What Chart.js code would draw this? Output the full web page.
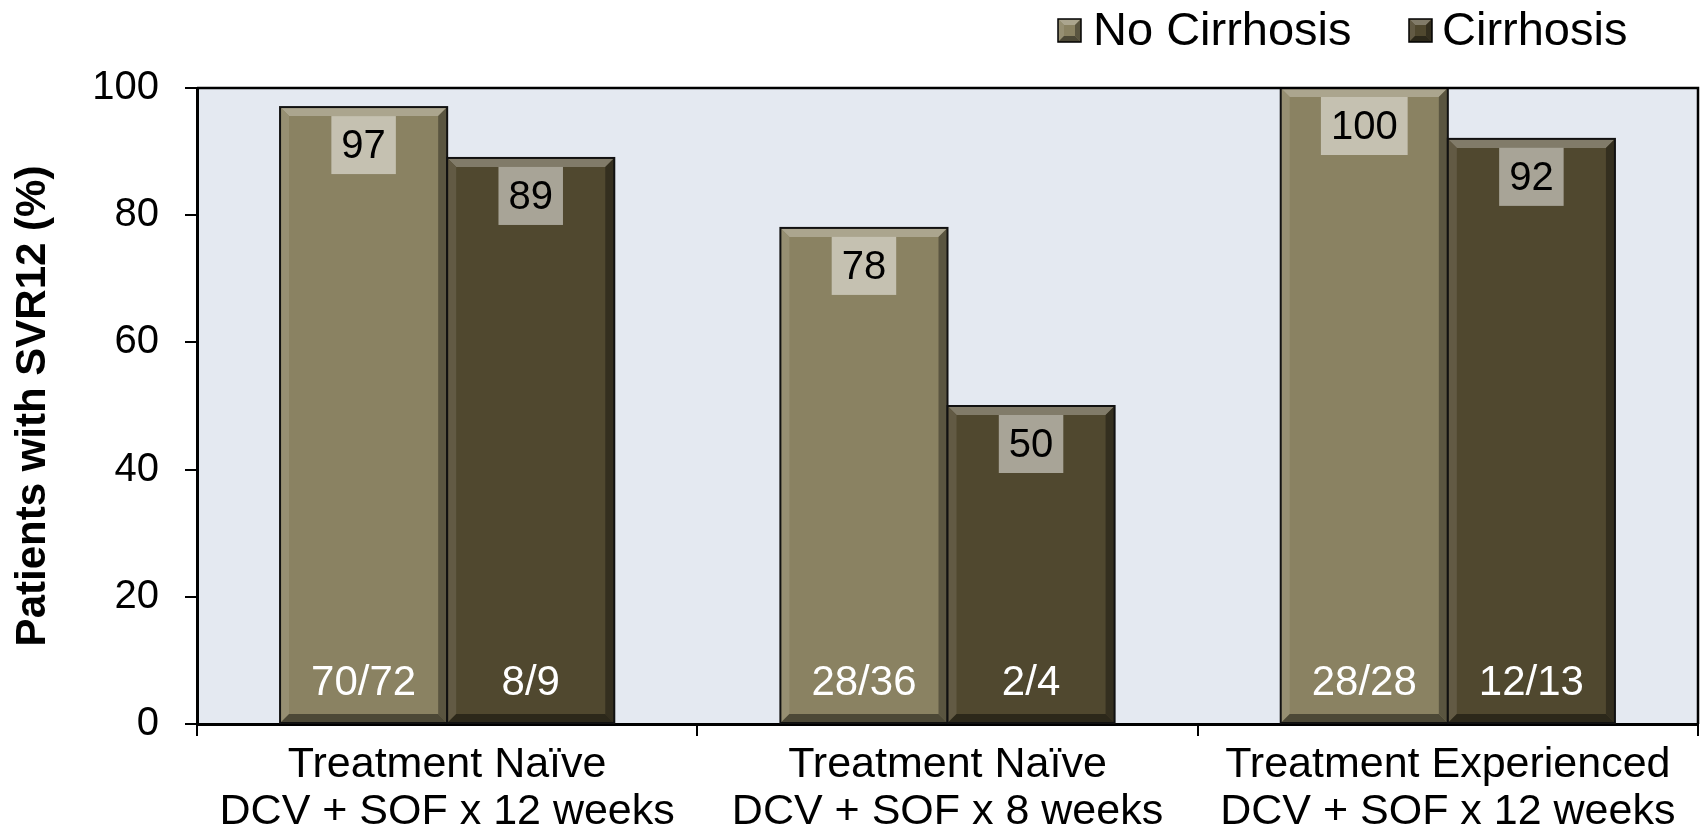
<!DOCTYPE html>
<html>
<head>
<meta charset="utf-8">
<script src="https://cdn.jsdelivr.net/npm/chart.js@4.4.1/dist/chart.umd.min.js"></script>
<style>
  html, body { margin: 0; padding: 0; background: #fff; }
  #wrap { width: 1702px; height: 833px; }
</style>
</head>
<body>
<div id="wrap"><canvas id="chart" width="1702" height="833"></canvas></div>
<script>
// Data
const categories = [
  ["Treatment Naïve", "DCV + SOF x 12 weeks"],
  ["Treatment Naïve", "DCV + SOF x 8 weeks"],
  ["Treatment Experienced", "DCV + SOF x 12 weeks"]
];
const noCirrhosis = [97, 78, 100];
const cirrhosis = [89, 50, 92];
const noCirrhosisCounts = ["70/72", "28/36", "28/28"];
const cirrhosisCounts = ["8/9", "2/4", "12/13"];
const seriesNames = ["No Cirrhosis", "Cirrhosis"];
const yTicks = [0, 20, 40, 60, 80, 100];

const FONT = "'Liberation Sans', Arial, Helvetica, sans-serif";
const barColors = ["#8a8262", "#50482f"];
const counts = [noCirrhosisCounts, cirrhosisCounts];

function shade(hex, amt) {
  const n = parseInt(hex.slice(1), 16);
  let r = (n >> 16) & 255, g = (n >> 8) & 255, b = n & 255;
  const f = c => Math.max(0, Math.min(255, Math.round(amt > 0 ? c + (255 - c) * amt : c * (1 + amt))));
  return `rgb(${f(r)},${f(g)},${f(b)})`;
}

// draws a bevelled box like the office-style bars
function bevel(ctx, x0, y0, x1, y1, color, d) {
  ctx.fillStyle = color;
  ctx.fillRect(x0, y0, x1 - x0, y1 - y0);
  // top
  ctx.fillStyle = shade(color, 0.28);
  ctx.beginPath();
  ctx.moveTo(x0, y0); ctx.lineTo(x1, y0); ctx.lineTo(x1 - d, y0 + d); ctx.lineTo(x0 + d, y0 + d);
  ctx.fill();
  // left
  ctx.fillStyle = shade(color, 0.1);
  ctx.beginPath();
  ctx.moveTo(x0, y0); ctx.lineTo(x0 + d, y0 + d); ctx.lineTo(x0 + d, y1 - d); ctx.lineTo(x0, y1);
  ctx.fill();
  // right
  ctx.fillStyle = shade(color, -0.35);
  ctx.beginPath();
  ctx.moveTo(x1, y0); ctx.lineTo(x1, y1); ctx.lineTo(x1 - d, y1 - d); ctx.lineTo(x1 - d, y0 + d);
  ctx.fill();
  // bottom
  ctx.fillStyle = shade(color, -0.45);
  ctx.beginPath();
  ctx.moveTo(x0, y1); ctx.lineTo(x1, y1); ctx.lineTo(x1 - d, y1 - d); ctx.lineTo(x0 + d, y1 - d);
  ctx.fill();
}

const framePlugin = {
  id: "frame",
  beforeDraw(chart) {
    const { ctx, chartArea: a } = chart;
    ctx.save();
    ctx.fillStyle = "#e4e9f1";
    ctx.fillRect(a.left, a.top, a.right - a.left, a.bottom - a.top);
    ctx.restore();
  },
  afterDraw(chart) {
    const { ctx, chartArea: a } = chart;
    ctx.save();
    ctx.strokeStyle = "#000";
    ctx.lineWidth = 2.5;
    ctx.beginPath();
    ctx.moveTo(a.left, a.top); ctx.lineTo(a.right, a.top); ctx.lineTo(a.right, a.bottom);
    ctx.stroke();

    // legend
    ctx.font = "47px " + FONT;
    ctx.textBaseline = "middle";
    ctx.textAlign = "left";
    const ly = 30;
    const items = [{ x: 1058, t: 1093 }, { x: 1409, t: 1442 }];
    items.forEach((it, i) => {
      bevel(ctx, it.x, ly - 11, it.x + 23, ly + 12, barColors[i], 6);
      ctx.strokeStyle = "#000";
      ctx.lineWidth = 1.5;
      ctx.strokeRect(it.x, ly - 11, 23, 23);
      ctx.fillStyle = "#000";
      ctx.fillText(seriesNames[i], it.t, ly + 2);
    });
    ctx.restore();
  }
};

const barPlugin = {
  id: "bevelBars",
  afterDatasetsDraw(chart) {
    const ctx = chart.ctx;
    ctx.save();
    chart.data.datasets.forEach((ds, di) => {
      const meta = chart.getDatasetMeta(di);
      meta.data.forEach((bar, i) => {
        const x0 = bar.x - bar.width / 2, x1 = bar.x + bar.width / 2;
        const y0 = bar.y, y1 = bar.base;
        bevel(ctx, x0, y0, x1, y1, barColors[di], 9);
        ctx.strokeStyle = "#111";
        ctx.lineWidth = 2;
        ctx.strokeRect(x0, y0, x1 - x0, y1 - y0);

        // value box
        ctx.font = "40px " + FONT;
        const txt = String(ds.data[i]);
        const w = ctx.measureText(txt).width + 20;
        const top = y0 + 9;
        ctx.fillStyle = "rgba(255,255,255,0.5)";
        ctx.fillRect(bar.x - w / 2, top, w, 58);
        ctx.fillStyle = "#000";
        ctx.textAlign = "center";
        ctx.textBaseline = "middle";
        ctx.fillText(txt, bar.x, top + 31);

        // n/N count
        ctx.font = "42px " + FONT;
        ctx.fillStyle = "#fff";
        ctx.fillText(counts[di][i], bar.x, y1 - 40);
      });
    });
    ctx.restore();
  }
};

new Chart(document.getElementById("chart"), {
  type: "bar",
  data: {
    labels: categories,
    datasets: [
      { label: seriesNames[0], data: noCirrhosis, backgroundColor: "rgba(0,0,0,0)" },
      { label: seriesNames[1], data: cirrhosis, backgroundColor: "rgba(0,0,0,0)" }
    ]
  },
  options: {
    responsive: false,
    animation: false,
    devicePixelRatio: 1,
    layout: { padding: { top: 88, right: 4, left: 0, bottom: 0 } },
    categoryPercentage: 0.668,
    barPercentage: 1,
    plugins: { legend: { display: false }, tooltip: { enabled: false } },
    scales: {
      x: {
        grid: { offset: true, drawOnChartArea: false, color: "#000", lineWidth: 2, tickLength: 12 },
        border: { color: "#000", width: 3 },
        ticks: { color: "#000", font: { family: FONT, size: 43, lineHeight: 1.1 }, padding: 5, maxRotation: 0 },
        afterFit(s) { s.height = 109; }
      },
      y: {
        min: 0, max: 100,
        afterBuildTicks(s) { s.ticks = yTicks.map(v => ({ value: v })); },
        grid: { drawOnChartArea: false, color: "#000", lineWidth: 2, tickLength: 12 },
        border: { color: "#000", width: 3 },
        ticks: { color: "#000", font: { family: FONT, size: 40 }, padding: 26 },
        title: {
          display: true, text: "Patients with SVR12 (%)", color: "#000",
          font: { family: FONT, size: 42, weight: "bold", lineHeight: 1.2 }, padding: { top: 8, bottom: 0 }
        },
        afterFit(s) { s.width = 197; }
      }
    }
  },
  plugins: [framePlugin, barPlugin]
});
</script>
</body>
</html>
